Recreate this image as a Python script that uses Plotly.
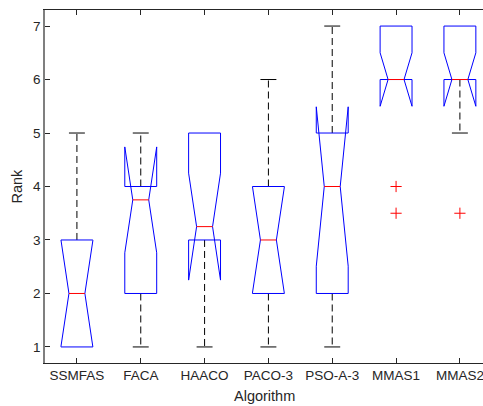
import plotly.graph_objects as go

algorithms = ["SSMFAS", "FACA", "HAACO", "PACO-3", "PSO-A-3", "MMAS1", "MMAS2"]
q1 = [1, 2, 3, 2, 2, 6, 6]
median = [2, 3.75, 3.25, 3, 4, 6, 6]
q3 = [3, 4, 5, 4, 5, 7, 7]
notch_lo = [1.01, 2.76, 2.25, 2.01, 2.51, 5.5, 5.5]
notch_hi = [2.99, 4.74, 4.25, 3.99, 5.49, 6.5, 6.5]
whisk_lo = [1, 1, 1, 1, 1, 6, 5]
whisk_hi = [5, 5, 5, 6, 7, 7, 7]
outlier_alg = ["MMAS1", "MMAS1", "MMAS2"]
outlier_val = [4, 3.5, 3.5]
y_ticks = [1, 2, 3, 4, 5, 6, 7]

BLUE = "#0000FF"
RED = "#FF0000"
DARK = "#262626"
W = 0.25   # box half width
NW = 0.125  # notch half width
CW = 0.125  # cap half width

fig = go.Figure()
pos = {a: i + 1 for i, a in enumerate(algorithms)}

# whiskers
for i, a in enumerate(algorithms):
    c = pos[a]
    for qv, wv in ((q3[i], whisk_hi[i]), (q1[i], whisk_lo[i])):
        if wv != qv:
            fig.add_trace(go.Scatter(x=[c, c], y=[qv, wv], mode="lines",
                                     line=dict(color="black", width=1, dash="7px,4px"),
                                     hoverinfo="skip", showlegend=False))
            fig.add_trace(go.Scatter(x=[c - CW, c + CW], y=[wv, wv], mode="lines",
                                     line=dict(color="black", width=1),
                                     hoverinfo="skip", showlegend=False))

# notched boxes
for i, a in enumerate(algorithms):
    c = pos[a]
    L, R = c - W, c + W
    xs = [L, L, c - NW, L, L, R, R, c + NW, R, R, L]
    ys = [q1[i], notch_lo[i], median[i], notch_hi[i], q3[i], q3[i],
          notch_hi[i], median[i], notch_lo[i], q1[i], q1[i]]
    fig.add_trace(go.Scatter(x=xs, y=ys, mode="lines",
                             line=dict(color=BLUE, width=1),
                             hoverinfo="skip", showlegend=False))
    fig.add_trace(go.Scatter(x=[c - NW, c + NW], y=[median[i], median[i]], mode="lines",
                             line=dict(color=RED, width=1),
                             hoverinfo="skip", showlegend=False))

# outliers
fig.add_trace(go.Scatter(x=[pos[a] for a in outlier_alg], y=outlier_val, mode="markers",
                         marker=dict(symbol="cross-thin", size=8,
                                     line=dict(color=RED, width=1), color=RED),
                         hoverinfo="skip", showlegend=False))

# dummy trace for top axis
fig.add_trace(go.Scatter(x=[1], y=[1], xaxis="x2", mode="markers",
                         marker=dict(opacity=0), hoverinfo="skip", showlegend=False))

xr = [0.5, 0.5 + 438 / 63.83]
font = dict(family="Liberation Sans, Arial, sans-serif", size=13.5, color=DARK)
tfont = dict(family="Liberation Sans, Arial, sans-serif", size=14.5, color=DARK)

fig.update_layout(
    width=483, height=406,
    margin=dict(l=45, r=0, t=10, b=43, autoexpand=False),
    paper_bgcolor="white", plot_bgcolor="white",
    font=font,
    xaxis=dict(range=xr, tickvals=list(range(1, 8)), ticktext=algorithms,
               ticks="inside", ticklen=5, tickcolor=DARK, showgrid=False,
               zeroline=False, showline=True, linecolor=DARK, linewidth=1,
               tickfont=font, automargin=False, ticklabeloverflow="allow"),
    xaxis2=dict(range=xr, overlaying="x", side="top", tickvals=list(range(1, 8)),
                ticks="inside", ticklen=5, tickcolor=DARK, showticklabels=False,
                showgrid=False, zeroline=False, showline=True, linecolor=DARK,
                linewidth=1, automargin=False),
    yaxis=dict(range=[0.7, 7.3], tickvals=y_ticks, ticks="inside", ticklen=5,
               tickcolor=DARK, showgrid=False, zeroline=False, showline=True,
               linecolor="#7f7f7f", linewidth=1.5, tickfont=font, automargin=False),
)

fig.add_annotation(text="Algorithm", xref="paper", yref="paper", x=0.5, y=0,
                   yshift=-23, yanchor="top", showarrow=False, font=tfont)
fig.add_annotation(text="Rank", xref="paper", yref="paper", x=0, y=0.5,
                   xshift=-19, xanchor="right", textangle=-90, showarrow=False, font=tfont)

fig.write_html("out.html", config={"displayModeBar": False},
               post_script="document.body.style.margin='0';document.body.style.overflow='hidden';")
